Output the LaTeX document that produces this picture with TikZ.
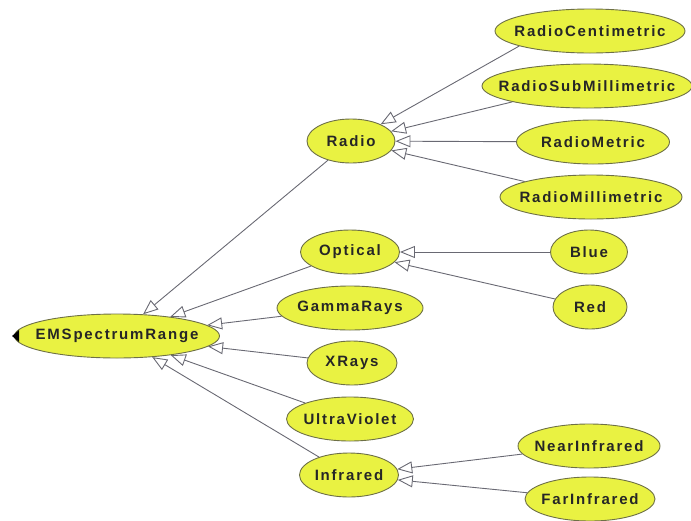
\documentclass[tikz,border=0pt]{standalone}
\usepackage{fontspec}
\usepackage{xcolor}
\usepackage{tikz}
\usetikzlibrary{arrows.meta}
\usetikzlibrary{shapes.geometric}
\usetikzlibrary{backgrounds}

\newfontfamily\classfont[LetterSpace=12]{Liberation Sans}

\definecolor{classfill}{RGB}{233,242,66}
\definecolor{classline}{RGB}{110,112,70}
\definecolor{isaline}{RGB}{105,105,115}

\tikzset{
	class/.style={ellipse, draw=classline, line width=0.9pt, fill=classfill, minimum height=44pt, inner ysep=0pt, inner xsep=-40pt, font=\classfont\bfseries\fontsize{15}{17}\selectfont, text=black!85},
	isa/.style={draw=isaline, line width=0.9pt, -{Triangle[open, length=15pt, width=12pt, fill=white]}}
}

\begin{document}
\begin{tikzpicture}[x=1pt, y=-1pt]

	\useasboundingbox (0,0) rectangle (691,520);
	
	% root
	\node [class, minimum width=205pt] (EMSpectrumRange) at (117,336) {EMSpectrumRange};
	
	\fill [black] (EMSpectrumRange.west) ++(-2,0) -- ++(7,-6) -- ++(0,12) -- cycle;
	
	% first level
	\node [class, minimum width=88pt] (Radio) at (351,141) {Radio};
	
	\node [class, minimum width=99pt] (Optical) at (350,252) {Optical};
	
	\node [class, minimum width=146pt] (GammaRays) at (350,308) {GammaRays};
	
	\node [class, minimum width=90pt] (XRays) at (352,363) {XRays};
	
	\node [class, minimum width=127pt] (UltraViolet) at (350,419) {UltraViolet};
	
	\node [class, minimum width=99pt] (Infrared) at (349,475) {Infrared};
	
	% second level
	\node [class, minimum width=190pt] (RadioCentimetric) at (590,31) {RadioCentimetric};
	
	\node [class, minimum width=210pt] (RadioSubMillimetric) at (587,86) {RadioSubMillimetric};
	
	\node [class, minimum width=153pt] (RadioMetric) at (593,142) {RadioMetric};
	
	\node [class, minimum width=182pt] (RadioMillimetric) at (591,197) {RadioMillimetric};
	
	\node [class, minimum width=77pt] (Blue) at (589,252) {Blue};
	
	\node [class, minimum width=74pt] (Red) at (590,307) {Red};
	
	\node [class, minimum width=142pt] (NearInfrared) at (589,446) {NearInfrared};
	
	\node [class, minimum width=130pt] (FarInfrared) at (590,499) {FarInfrared};
	
	% subclass links
	\begin{scope}[on background layer]
	
	\foreach \sub in {Radio, Optical, GammaRays, XRays, UltraViolet, Infrared}
		\draw [isa] (\sub) -- (EMSpectrumRange);
	
	\draw [isa] (RadioCentimetric.192) -- (Radio);
	
	\draw [isa] (RadioSubMillimetric.192) -- (Radio);
	
	\foreach \sub in {RadioMetric, RadioMillimetric}
		\draw [isa] (\sub) -- (Radio);
	
	\foreach \sub in {Blue, Red}
		\draw [isa] (\sub) -- (Optical);
	
	\foreach \sub in {NearInfrared, FarInfrared}
		\draw [isa] (\sub) -- (Infrared);
	
	\end{scope}
	
\end{tikzpicture}
\end{document}
